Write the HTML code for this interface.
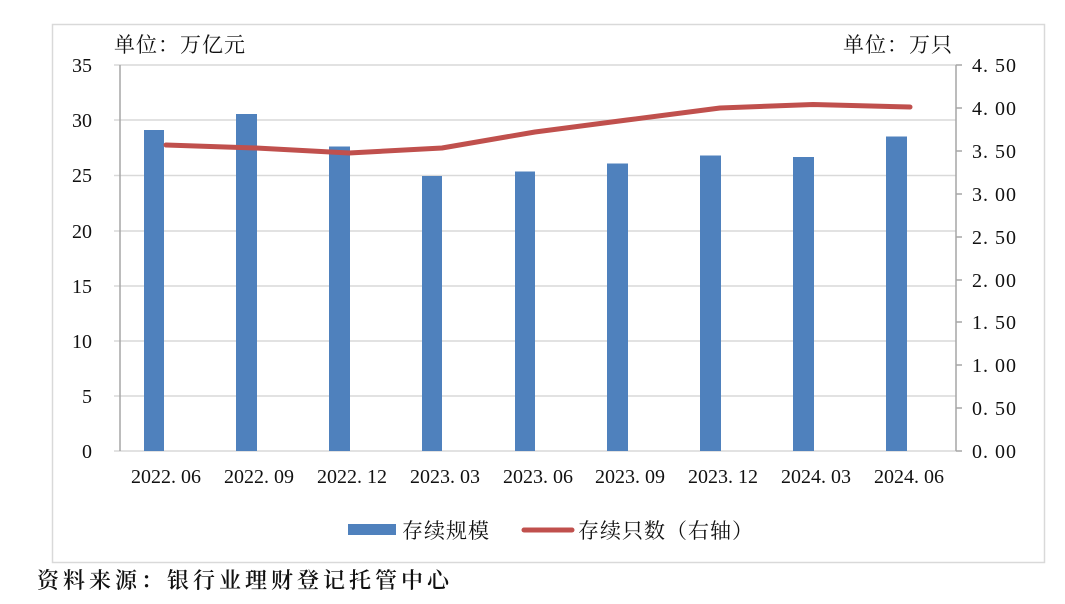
<!DOCTYPE html>
<html><head><meta charset="utf-8"><style>
html,body{margin:0;padding:0;background:#fff;}
svg{display:block;}
text{font-family:"Liberation Serif","Noto Serif CJK SC",serif;fill:#111;}
.c{font-family:"Noto Serif CJK SC","Liberation Serif",serif;}
</style></head><body>
<svg width="1065" height="604" viewBox="0 0 1065 604">
<rect x="52.5" y="24.5" width="992" height="538" fill="#fff" stroke="#d9d9d9" stroke-width="1.5"/>
<g stroke="#d9d9d9" stroke-width="1.5">
<line x1="114" y1="65" x2="956" y2="65"/>
<line x1="114" y1="120" x2="956" y2="120"/>
<line x1="114" y1="175.5" x2="956" y2="175.5"/>
<line x1="114" y1="231" x2="956" y2="231"/>
<line x1="114" y1="286" x2="956" y2="286"/>
<line x1="114" y1="341" x2="956" y2="341"/>
<line x1="114" y1="396" x2="956" y2="396"/>
<line x1="114" y1="451" x2="956" y2="451"/>
</g>
<g stroke="#a6a6a6" stroke-width="1.5">
<line x1="120" y1="65" x2="120" y2="451"/>
<line x1="956" y1="65" x2="956" y2="451"/>
<line x1="956" y1="65" x2="962" y2="65"/><line x1="956" y1="108" x2="962" y2="108"/>
<line x1="956" y1="151" x2="962" y2="151"/><line x1="956" y1="194" x2="962" y2="194"/>
<line x1="956" y1="237" x2="962" y2="237"/><line x1="956" y1="280" x2="962" y2="280"/>
<line x1="956" y1="322" x2="962" y2="322"/><line x1="956" y1="365" x2="962" y2="365"/>
<line x1="956" y1="408" x2="962" y2="408"/><line x1="956" y1="451" x2="962" y2="451"/>
</g>
<g fill="#4f81bd">
<rect x="144" y="130" width="20" height="321"/>
<rect x="236" y="114" width="21" height="337"/>
<rect x="329" y="146.5" width="21" height="304.5"/>
<rect x="422" y="176" width="20" height="275"/>
<rect x="515" y="171.5" width="20" height="279.5"/>
<rect x="607" y="163.5" width="21" height="287.5"/>
<rect x="700" y="155.5" width="21" height="295.5"/>
<rect x="793" y="157" width="21" height="294"/>
<rect x="886" y="136.5" width="21" height="314.5"/>
</g>
<polyline fill="none" stroke="#c0504d" stroke-width="5" stroke-linejoin="round" stroke-linecap="round"
points="166,145 256,148 349,153 442,148 535,132 627,120 720,108 813,104.5 910,107"/>
<g font-size="20" text-anchor="end">
<text x="92" y="72">35</text><text x="92" y="127">30</text><text x="92" y="182">25</text>
<text x="92" y="238">20</text><text x="92" y="293">15</text><text x="92" y="348">10</text>
<text x="92" y="403">5</text><text x="92" y="458">0</text>
</g>
<g font-size="20" letter-spacing="1">
<text x="972" y="72">4. 50</text><text x="972" y="115">4. 00</text><text x="972" y="158">3. 50</text>
<text x="972" y="201">3. 00</text><text x="972" y="244">2. 50</text><text x="972" y="287">2. 00</text>
<text x="972" y="329">1. 50</text><text x="972" y="372">1. 00</text><text x="972" y="415">0. 50</text>
<text x="972" y="458">0. 00</text>
</g>
<g font-size="20" text-anchor="middle">
<text x="166" y="483">2022. 06</text><text x="259" y="483">2022. 09</text><text x="352" y="483">2022. 12</text>
<text x="445" y="483">2023. 03</text><text x="538" y="483">2023. 06</text><text x="630" y="483">2023. 09</text>
<text x="723" y="483">2023. 12</text><text x="816" y="483">2024. 03</text><text x="909" y="483">2024. 06</text>
</g>
<text class="c" x="114" y="52" font-size="21" letter-spacing="1">单位：万亿元</text>
<text class="c" x="843" y="52" font-size="21" letter-spacing="1">单位：万只</text>
<rect x="348" y="524" width="48" height="11" fill="#4f81bd"/>
<text class="c" x="402" y="538" font-size="21" letter-spacing="1">存续规模</text>
<line x1="524" y1="530" x2="572" y2="530" stroke="#c0504d" stroke-width="5" stroke-linecap="round"/>
<text class="c" x="578" y="538" font-size="21" letter-spacing="1">存续只数（右轴）</text>
<text class="c" x="37" y="588" font-size="22" letter-spacing="4" font-weight="600">资料来源：银行业理财登记托管中心</text>
</svg>
</body></html>
